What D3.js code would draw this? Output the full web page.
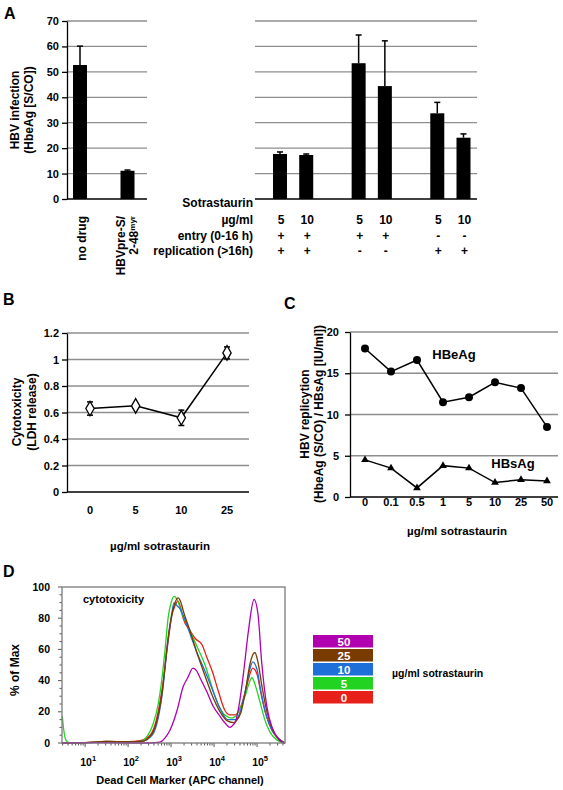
<!DOCTYPE html>
<html><head><meta charset="utf-8">
<script src="https://cdn.jsdelivr.net/npm/d3@7"></script>
<style>
body{margin:0;background:#fff}
text{font-family:"Liberation Sans",Arial,Helvetica,sans-serif;font-weight:bold;fill:#000}
</style>
</head><body>
<svg id="c" width="563" height="790"></svg>
<script>
// ---------------- DATA ----------------
// Panel A
const aLeftCats = ["no drug", "HBVpre-S/2-48myr"];
const aLeftVals = [52.7, 11.1];
const aLeftErr  = [7.4, 0.3];
const aRightSlots = ["s5a", "s10a", "gap1", "s5b", "s10b", "gap2", "s5c", "s10c"];
const aRightCats  = ["s5a", "s10a", "s5b", "s10b", "s5c", "s10c"];
const aRightDose  = ["5", "10", "5", "10", "5", "10"];
const aRightEntry = ["+", "+", "+", "+", "-", "-"];
const aRightRepl  = ["+", "+", "-", "-", "+", "+"];
const aRightVals  = [17.7, 17.3, 53.4, 44.4, 33.7, 24.1];
const aRightErr   = [0.8, 0.4, 11.1, 17.8, 4.3, 1.5];
const aTicks = [0, 10, 20, 30, 40, 50, 60, 70];

// Panel B
const bDoses = ["0", "5", "10", "25"];
const bVals  = [0.63, 0.65, 0.56, 1.05];
const bErr   = [0.05, 0.015, 0.058, 0.045];
const bTicks = [0, 0.2, 0.4, 0.6, 0.8, 1, 1.2];

// Panel C
const cDoses = ["0", "0.1", "0.5", "1", "5", "10", "25", "50"];
const cHBeAg = [18.0, 15.2, 16.6, 11.5, 12.1, 13.9, 13.2, 8.5];
const cHBsAg = [4.5, 3.5, 1.1, 3.8, 3.5, 1.75, 2.1, 1.95];
const cTicks = [0, 5, 10, 15, 20];

// Panel D : [log10(APC), % of Max]
const d0 = [[0.47,0],[1.0,0.3],[1.5,1],[2.0,0.8],[2.28,1.5],[2.51,5],[2.65,14],[2.74,26],[2.83,42],[2.93,65],[3.02,82],[3.09,88],[3.16,91],[3.23,86],[3.28,80],[3.44,72],[3.56,67],[3.72,63],[3.83,55],[3.97,45],[4.09,34],[4.25,21],[4.37,18],[4.49,18],[4.60,22],[4.72,32],[4.81,42],[4.90,48],[5.00,44],[5.09,32],[5.21,18],[5.35,8],[5.49,3],[5.65,0]];
const d5 = [[0.47,17],[0.5,9],[0.55,2],[0.62,0.3],[1.0,0.2],[1.5,1],[2.0,0.6],[2.28,1],[2.46,5],[2.58,12],[2.70,25],[2.79,42],[2.86,60],[2.93,80],[3.00,90],[3.07,94],[3.14,92],[3.25,83],[3.44,72],[3.60,62],[3.79,50],[3.95,36],[4.09,25],[4.25,18],[4.42,16],[4.49,17],[4.60,22],[4.72,30],[4.81,38],[4.88,42],[4.97,36],[5.07,26],[5.18,15],[5.30,7],[5.46,2],[5.65,0]];
const d10 = [[0.47,0],[1.0,0.2],[1.5,0.6],[2.0,0.5],[2.32,1],[2.56,5],[2.70,16],[2.81,35],[2.90,60],[3.00,80],[3.07,90],[3.14,88],[3.21,86],[3.28,82],[3.44,70],[3.60,58],[3.79,46],[3.95,35],[4.14,22],[4.32,15],[4.51,15],[4.63,22],[4.74,35],[4.83,47],[4.90,52],[5.00,47],[5.09,33],[5.21,18],[5.35,8],[5.49,3],[5.65,0]];
const d25 = [[0.47,0],[1.0,0.3],[1.5,1],[2.0,0.8],[2.32,1],[2.56,6],[2.70,18],[2.79,32],[2.88,55],[2.97,75],[3.07,88],[3.16,93],[3.23,90],[3.28,85],[3.44,72],[3.60,58],[3.79,43],[3.95,31],[4.14,20],[4.32,14],[4.46,13],[4.51,14],[4.63,20],[4.74,35],[4.83,50],[4.95,58],[5.02,52],[5.11,37],[5.23,20],[5.37,8],[5.51,2],[5.65,0]];
const d50 = [[0.47,0],[1.5,0.2],[2.2,0],[2.5,0],[2.74,0.5],[2.85,3],[2.97,8],[3.14,21],[3.28,36],[3.39,42],[3.51,48],[3.60,46],[3.67,42],[3.83,33],[3.97,24],[4.14,17],[4.25,13],[4.37,10],[4.44,11.5],[4.50,14],[4.58,24],[4.69,46],[4.80,72],[4.93,92],[5.02,83],[5.11,51],[5.23,23],[5.35,10],[5.49,3],[5.65,0]];
const dLegend = ["50", "25", "10", "5", "0"];
const dSeries = [d0, d5, d10, d25, d50];
const dSeriesNames = ["0", "5", "10", "25", "50"];
const dYTicks = [0, 20, 40, 60, 80, 100];
const dXDecades = [1, 2, 3, 4, 5];

// ---------------- STYLE ----------------
const GRID = "#8e8e8e";
const dColors = {"0": "#e8201a", "5": "#22d322", "10": "#1f6fd8", "25": "#7a3b00", "50": "#b000b0"};

const svg = d3.select("#c");
const tx = (g, x, y, s, size, anchor) => g.append("text").attr("x", x).attr("y", y)
  .attr("dy", "0.35em").attr("font-size", size).attr("text-anchor", anchor || "start").text(s);
function styleAxis(g, size) {
  g.attr("font-family", null).attr("font-size", null);
  g.selectAll("text").attr("font-size", size);
  g.selectAll("path,line").attr("stroke", "#000").attr("stroke-width", 1.3);
}
function rotText(g, x, y, s, size, anchor) {
  return g.append("text").attr("transform", `translate(${x},${y}) rotate(-90)`)
    .attr("dy", "0.35em").attr("font-size", size).attr("text-anchor", anchor || "middle").text(s);
}

// ---------------- PANEL A ----------------
(function () {
  const g = svg.append("g");
  const y = d3.scaleLinear().domain([0, 70]).range([199, 21]);
  const xL = d3.scalePoint().domain(aLeftCats).range([80, 127.5]);
  const xR = d3.scalePoint().domain(aRightSlots).range([280, 463.5]);
  const segs = [[67, 147], [255, 477]];
  aTicks.filter(t => t > 0).forEach(t => segs.forEach(([a, b]) =>
    g.append("line").attr("x1", a).attr("x2", b).attr("y1", y(t)).attr("y2", y(t))
      .attr("stroke", GRID).attr("stroke-width", 1.3)));
  segs.forEach(([a, b]) => g.append("line").attr("x1", a).attr("x2", b).attr("y1", y(0)).attr("y2", y(0))
    .attr("stroke", "#000").attr("stroke-width", 1.5));
  const ax = g.append("g").attr("transform", "translate(67,0)")
    .call(d3.axisLeft(y).tickValues(aTicks).tickSize(5).tickSizeOuter(0));
  styleAxis(ax, 11);
  const bars = [];
  aLeftCats.forEach((c, i) => bars.push([xL(c), aLeftVals[i], aLeftErr[i]]));
  aRightCats.forEach((c, i) => bars.push([xR(c), aRightVals[i], aRightErr[i]]));
  bars.forEach(([cx, v, e]) => {
    g.append("rect").attr("x", cx - 7).attr("width", 14).attr("y", y(v)).attr("height", y(0) - y(v)).attr("fill", "#000");
    g.append("line").attr("x1", cx).attr("x2", cx).attr("y1", y(v)).attr("y2", y(v + e)).attr("stroke", "#000").attr("stroke-width", 1.5);
    g.append("line").attr("x1", cx - 3).attr("x2", cx + 3).attr("y1", y(v + e)).attr("y2", y(v + e)).attr("stroke", "#000").attr("stroke-width", 1.5);
  });
  g.append("text").attr("x", 4).attr("y", 19).attr("font-size", 16).text("A");
  rotText(g, 15, 110, "HBV infection", 12);
  rotText(g, 28.5, 110, "(HbeAg [S/CO])", 12);
  // category labels
  rotText(g, xL(aLeftCats[0]) + 1.5, 216, "no drug", 12, "end");
  rotText(g, xL(aLeftCats[1]) - 6.5, 216, "HBVpre-S/", 12, "end");
  const t2 = rotText(g, xL(aLeftCats[1]) + 6.5, 216, "2-48", 12, "end");
  t2.append("tspan").attr("dy", "-0.45em").attr("font-size", 8).text("myr");
  // table
  tx(g, 253, 203, "Sotrastaurin", 12, "end");
  tx(g, 253, 220, "µg/ml", 12, "end");
  tx(g, 253, 235.5, "entry (0-16 h)", 12, "end");
  tx(g, 253, 251, "replication (>16h)", 12, "end");
  aRightCats.forEach((c, i) => {
    tx(g, xR(c) + 1, 220, aRightDose[i], 12, "middle");
    tx(g, xR(c) + 1, 235.5, aRightEntry[i], 12, "middle");
    tx(g, xR(c) + 1, 251, aRightRepl[i], 12, "middle");
  });
})();

// ---------------- PANEL B ----------------
(function () {
  const g = svg.append("g");
  const y = d3.scaleLinear().domain([0, 1.2]).range([492, 333]);
  const x = d3.scalePoint().domain(bDoses).range([90, 227]);
  bTicks.filter(t => t > 0).forEach(t => g.append("line").attr("x1", 67).attr("x2", 249)
    .attr("y1", y(t)).attr("y2", y(t)).attr("stroke", GRID).attr("stroke-width", 1.3));
  g.append("line").attr("x1", 67).attr("x2", 249).attr("y1", y(0)).attr("y2", y(0)).attr("stroke", "#000").attr("stroke-width", 1.5);
  const ax = g.append("g").attr("transform", "translate(67,0)")
    .call(d3.axisLeft(y).tickValues(bTicks).tickFormat(d3.format("~g")).tickSize(5).tickSizeOuter(0));
  styleAxis(ax, 11);
  bDoses.forEach(d => tx(g, x(d), 510, d, 11, "middle"));
  g.append("path").datum(bDoses.map((d, i) => [x(d), y(bVals[i])]))
    .attr("d", d3.line()).attr("fill", "none").attr("stroke", "#000").attr("stroke-width", 1.5);
  bDoses.forEach((d, i) => {
    const cx = x(d), lo = y(bVals[i] - bErr[i]), hi = y(bVals[i] + bErr[i]);
    g.append("line").attr("x1", cx).attr("x2", cx).attr("y1", lo).attr("y2", hi).attr("stroke", "#000").attr("stroke-width", 1.5);
    [lo, hi].forEach(yy => g.append("line").attr("x1", cx - 3).attr("x2", cx + 3).attr("y1", yy).attr("y2", yy).attr("stroke", "#000").attr("stroke-width", 1.5));
    g.append("path").attr("d", d3.symbol(d3.symbolDiamond, 60)())
      .attr("transform", `translate(${cx},${y(bVals[i])})`)
      .attr("fill", "#fff").attr("stroke", "#000").attr("stroke-width", 1.3);
  });
  g.append("text").attr("x", 3).attr("y", 305).attr("font-size", 16).text("B");
  rotText(g, 17, 412, "Cytotoxicity", 12);
  rotText(g, 31.5, 412, "(LDH release)", 12);
  tx(g, 160, 546, "µg/ml sotrastaurin", 11.5, "middle");
})();

// ---------------- PANEL C ----------------
(function () {
  const g = svg.append("g");
  const y = d3.scaleLinear().domain([0, 20]).range([497, 332]);
  const x = d3.scalePoint().domain(cDoses).range([365, 547]);
  cTicks.filter(t => t > 0).forEach(t => g.append("line").attr("x1", 350).attr("x2", 558)
    .attr("y1", y(t)).attr("y2", y(t)).attr("stroke", GRID).attr("stroke-width", 1.3));
  g.append("line").attr("x1", 350).attr("x2", 558).attr("y1", y(0)).attr("y2", y(0)).attr("stroke", "#000").attr("stroke-width", 1.5);
  const ax = g.append("g").attr("transform", "translate(350,0)")
    .call(d3.axisLeft(y).tickValues(cTicks).tickSize(5).tickSizeOuter(0).tickPadding(6));
  styleAxis(ax, 11);
  cDoses.forEach(d => tx(g, x(d), 502, d, 11, "middle"));
  const line = d3.line();
  g.append("path").datum(cDoses.map((d, i) => [x(d), y(cHBeAg[i])])).attr("d", line)
    .attr("fill", "none").attr("stroke", "#000").attr("stroke-width", 1.5);
  g.append("path").datum(cDoses.map((d, i) => [x(d), y(cHBsAg[i])])).attr("d", line)
    .attr("fill", "none").attr("stroke", "#000").attr("stroke-width", 1.5);
  cDoses.forEach((d, i) => {
    g.append("circle").attr("cx", x(d)).attr("cy", y(cHBeAg[i])).attr("r", 4).attr("fill", "#000");
    g.append("path").attr("d", d3.symbol(d3.symbolTriangle, 26)())
      .attr("transform", `translate(${x(d)},${y(cHBsAg[i])})`).attr("fill", "#000");
  });
  g.append("text").attr("x", 284).attr("y", 309).attr("font-size", 16).text("C");
  tx(g, 454, 354, "HBeAg", 13, "middle");
  tx(g, 513, 463, "HBsAg", 13, "middle");
  rotText(g, 305, 414, "HBV replicytion", 12);
  rotText(g, 318.5, 414, "(HbeAg (S/CO) / HBsAg [IU/ml])", 12);
  tx(g, 457, 531, "µg/ml sotrastaurin", 11.5, "middle");
})();

// ---------------- PANEL D ----------------
(function () {
  const g = svg.append("g");
  const L = 62, R = 285, T = 587, B = 743;
  const x = d3.scaleLog().domain([Math.pow(10, 0.462), Math.pow(10, 5.65)]).range([L, R]);
  const y = d3.scaleLinear().domain([0, 100]).range([B, T]);
  // minor / major ticks
  const xt = x.ticks();
  xt.forEach(v => {
    const major = Math.abs(Math.log10(v) - Math.round(Math.log10(v))) < 1e-6;
    g.append("line").attr("x1", x(v)).attr("x2", x(v)).attr("y1", B).attr("y2", B + (major ? 4 : 2.5))
      .attr("stroke", "#555").attr("stroke-width", 1);
  });
  d3.range(0, 101, 5).forEach(v => g.append("line").attr("x1", L).attr("x2", L - (v % 20 === 0 ? 4 : 2.5))
    .attr("y1", y(v)).attr("y2", y(v)).attr("stroke", "#555").attr("stroke-width", 1));
  dYTicks.forEach(v => tx(g, 50, y(v), String(v), 10.5, "end"));
  dXDecades.forEach(k => {
    const t = g.append("text").attr("x", x(Math.pow(10, k)) + 3).attr("y", 766).attr("font-size", 10.5).attr("text-anchor", "middle").text("10");
    t.append("tspan").attr("dy", -5).attr("font-size", 7.5).text(String(k));
  });
  const line = d3.line().x(d => x(Math.pow(10, d[0]))).y(d => y(d[1])).curve(d3.curveMonotoneX);
  dSeries.forEach((s, i) => g.append("path").datum(s).attr("d", line).attr("fill", "none")
    .attr("stroke", dColors[dSeriesNames[i]]).attr("stroke-width", 1.3));
  g.append("rect").attr("x", L).attr("y", T).attr("width", R - L).attr("height", B - T)
    .attr("fill", "none").attr("stroke", "#7a7a7a").attr("stroke-width", 1.3);
  tx(g, 83, 599, "cytotoxicity", 11);
  g.append("text").attr("x", 3).attr("y", 577).attr("font-size", 16).text("D");
  rotText(g, 15, 670, "% of Max", 12);
  tx(g, 180, 780, "Dead Cell Marker (APC channel)", 11, "middle");
  // legend
  dLegend.forEach((lab, i) => {
    g.append("rect").attr("x", 313).attr("y", 635 + i * 14).attr("width", 60).attr("height", 12.5).attr("fill", dColors[lab]);
    g.append("text").attr("x", 344).attr("y", 641.5 + i * 14).attr("dy", "0.35em").attr("font-size", 11.5)
      .attr("text-anchor", "middle").style("fill", "#fff").text(lab);
  });
  tx(g, 392, 673, "µg/ml sotrastaurin", 10.5);
})();
</script>
</body></html>
